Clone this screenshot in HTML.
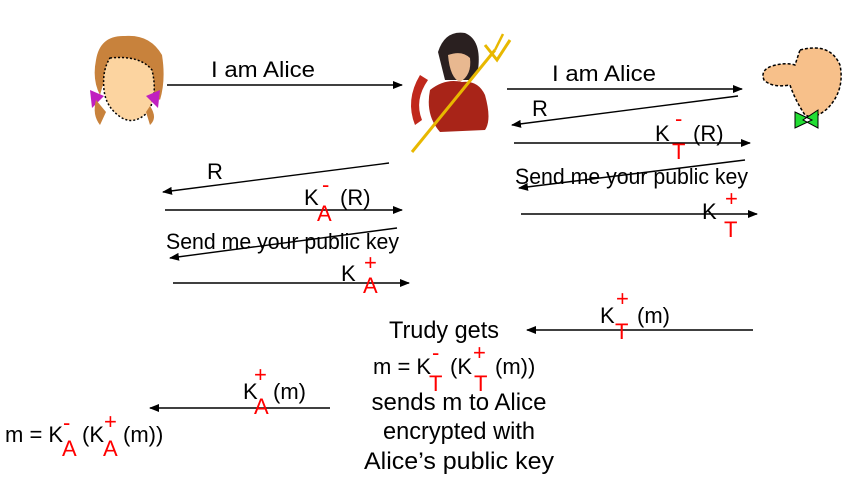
<!DOCTYPE html>
<html><head><meta charset="utf-8"><style>
html,body{margin:0;padding:0;background:#fff;}
svg{display:block;}
text{font-family:"Liberation Sans",Arial,sans-serif;font-size:22px;fill:#000;}
.r{fill:#f00;}
.b{font-size:24px;}
</style></head><body>
<svg width="860" height="492" viewBox="0 0 860 492" xmlns="http://www.w3.org/2000/svg">
<defs>
<marker id="a" markerWidth="10" markerHeight="8" refX="9" refY="4" orient="auto" markerUnits="userSpaceOnUse">
<path d="M0,0 L10,4 L0,8 z" fill="#000"/></marker>
</defs>

<!-- Alice -->
<g>
<path d="M96,60 Q100,35 125,36 Q150,34 162,55 Q166,80 160,100 L150,92 Q140,60 112,60 Q104,80 100,95 Q92,80 96,60z" fill="#c8823c"/>
<path d="M110,58 Q140,55 152,70 Q158,95 148,112 Q135,125 122,118 Q106,108 104,90 Q102,70 110,58z" fill="#fcd4a0" stroke="#000" stroke-width="1.5" stroke-dasharray="2,2"/>
<path d="M90,90 L104,96 L92,108z" fill="#c020c0"/>
<path d="M146,96 L160,90 L158,108z" fill="#c020c0"/>
<path d="M96,100 Q92,115 100,125 L106,112z" fill="#c8823c"/>
<path d="M150,106 Q158,118 150,125 L146,112z" fill="#c8823c"/>
</g>

<!-- Trudy -->
<g>
<path d="M420,75 Q405,100 415,125 L422,120 Q414,100 428,80z" fill="#c0281c"/>
<path d="M438,52 Q445,30 465,33 Q482,40 478,70 L470,80 L445,80z" fill="#2a2020"/>
<path d="M448,55 Q462,50 470,58 Q472,75 460,82 Q450,78 448,55z" fill="#e8b890"/>
<path d="M430,90 Q445,78 462,82 Q478,80 485,95 Q492,120 485,130 L440,132 Q425,115 430,90z" fill="#a82418"/>
<line x1="412" y1="152" x2="495" y2="50" stroke="#e8b800" stroke-width="3"/>
<path d="M485,45 L497,60 L510,40" fill="none" stroke="#e8b800" stroke-width="3"/>
<line x1="495" y1="50" x2="503" y2="34" stroke="#e8b800" stroke-width="2.5"/>
</g>

<!-- Bob -->
<g>
<path d="M800,50 Q830,42 840,65 Q845,90 828,108 Q815,120 805,115 Q795,100 790,85 Q772,88 764,80 Q760,70 772,66 Q785,62 795,65z" fill="#f7c08a" stroke="#000" stroke-width="1.5" stroke-dasharray="3,2"/>
<path d="M795,112 L812,120 L795,128z M818,110 L803,120 L818,128z" fill="#22dd33" stroke="#000" stroke-width="1"/>
</g>

<g stroke="#000" stroke-width="1.4" fill="none" marker-end="url(#a)">
<line x1="167" y1="85" x2="402" y2="85"/>
<line x1="507" y1="89" x2="742" y2="89"/>
<line x1="738" y1="96" x2="512" y2="125"/>
<line x1="514" y1="143" x2="750" y2="143"/>
<line x1="745" y1="160" x2="519" y2="188"/>
<line x1="521" y1="214" x2="757" y2="214"/>
<line x1="389" y1="163" x2="163" y2="192"/>
<line x1="165" y1="210" x2="402" y2="210"/>
<line x1="397" y1="228" x2="170" y2="258"/>
<line x1="173" y1="283" x2="409" y2="283"/>
<line x1="753" y1="330" x2="527" y2="330"/>
<line x1="330" y1="408" x2="150" y2="408"/>
</g>

<text x="211" y="77" textLength="104" lengthAdjust="spacingAndGlyphs">I am Alice</text>
<text x="552" y="81" textLength="104" lengthAdjust="spacingAndGlyphs">I am Alice</text>
<text x="532" y="116">R</text>
<text x="655" y="141">K</text><text class="r" x="675" y="126">-</text><text class="r" x="672" y="159">T</text><text x="693" y="141">(R)</text>
<text x="515" y="184" textLength="233" lengthAdjust="spacingAndGlyphs">Send me your public key</text>
<text x="702" y="219">K</text><text class="r" x="725" y="206">+</text><text class="r" x="724" y="237">T</text>
<text x="207" y="179">R</text>
<text x="304" y="205">K</text><text class="r" x="322" y="192">-</text><text class="r" x="317" y="221">A</text><text x="340" y="205">(R)</text>
<text x="166" y="249" textLength="233" lengthAdjust="spacingAndGlyphs">Send me your public key</text>
<text x="341" y="281">K</text><text class="r" x="364" y="270">+</text><text class="r" x="363" y="293">A</text>
<text x="600" y="323">K</text><text class="r" x="616" y="306">+</text><text class="r" x="615" y="339">T</text><text x="637" y="323">(m)</text>

<g text-anchor="middle" class="b">
<text class="b" x="444" y="338" textLength="110" lengthAdjust="spacingAndGlyphs">Trudy gets</text>
<text class="b" x="459" y="410" textLength="175" lengthAdjust="spacingAndGlyphs">sends m to Alice</text>
<text class="b" x="459" y="439" textLength="152" lengthAdjust="spacingAndGlyphs">encrypted with</text>
<text class="b" x="459" y="469" textLength="190" lengthAdjust="spacingAndGlyphs">Alice’s public key</text>
</g>
<text x="373" y="374">m = K</text><text class="r" x="432" y="360">-</text><text class="r" x="429" y="391">T</text><text x="450" y="374">(K</text><text class="r" x="473" y="360">+</text><text class="r" x="474" y="391">T</text><text x="495" y="374">(m))</text>

<text x="243" y="399">K</text><text class="r" x="254" y="382">+</text><text class="r" x="254" y="414">A</text><text x="273" y="399">(m)</text>

<text x="5" y="442">m = K</text><text class="r" x="63" y="430">-</text><text class="r" x="62" y="456">A</text><text x="82" y="442">(K</text><text class="r" x="104" y="429">+</text><text class="r" x="103" y="456">A</text><text x="123" y="442">(m))</text>
</svg>
</body></html>
